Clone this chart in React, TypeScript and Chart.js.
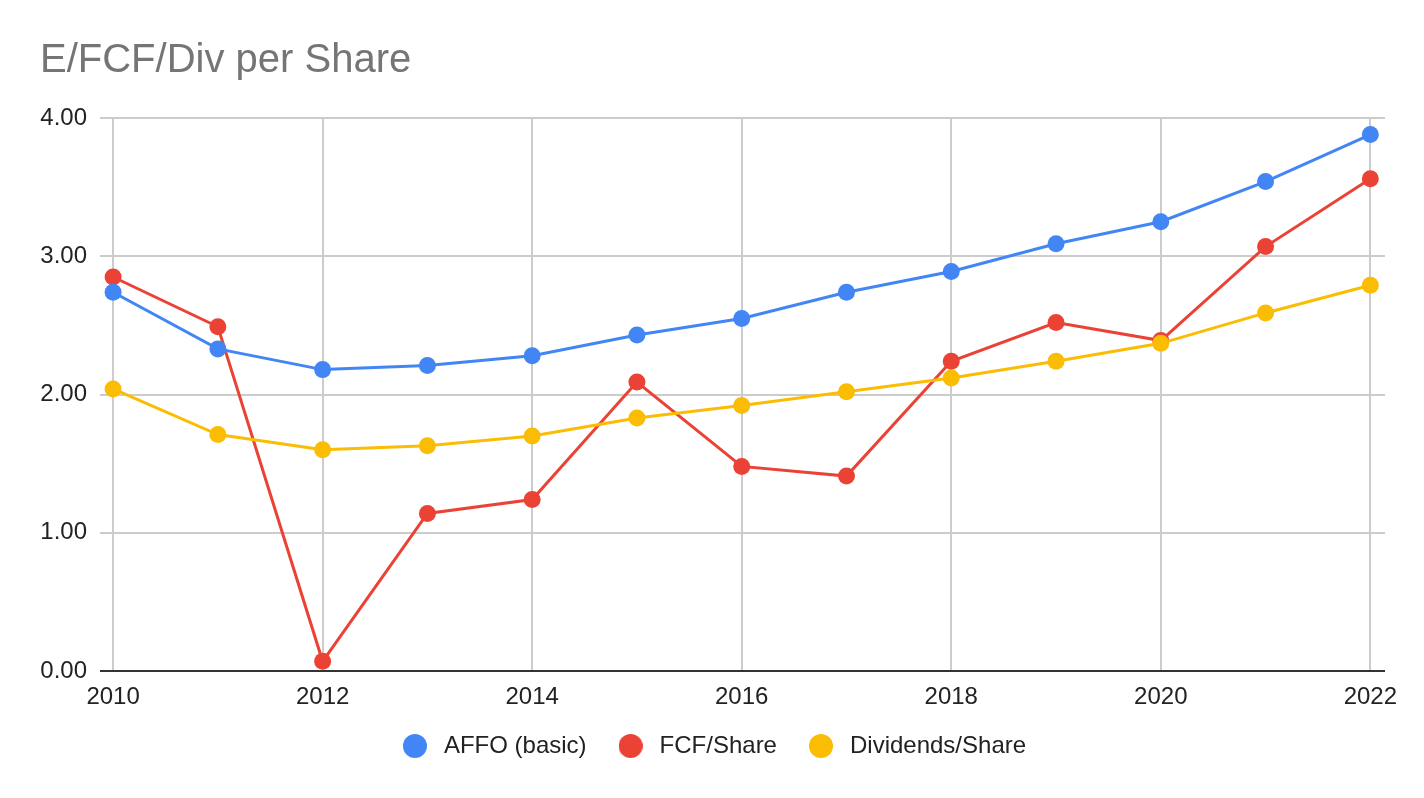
import { useEffect, useRef } from "react";
import { Chart, registerables, ChartOptions, ChartData, Plugin } from "chart.js";

Chart.register(...registerables);

// years on the x axis, and the labelled ones
const years = [2010, 2011, 2012, 2013, 2014, 2015, 2016, 2017, 2018, 2019, 2020, 2021, 2022];
const tickYears = [2010, 2012, 2014, 2016, 2018, 2020, 2022];

const affoBasic = [2.74, 2.33, 2.18, 2.21, 2.28, 2.43, 2.55, 2.74, 2.89, 3.09, 3.25, 3.54, 3.88];
const fcfShare = [2.85, 2.49, 0.07, 1.14, 1.24, 2.09, 1.48, 1.41, 2.24, 2.52, 2.39, 3.07, 3.56];
const divShare = [2.04, 1.71, 1.6, 1.63, 1.7, 1.83, 1.92, 2.02, 2.12, 2.24, 2.37, 2.59, 2.79];

const title = "E/FCF/Div per Share";
const FONT = '"Liberation Sans", Arial, sans-serif';

const toPoints = (vals: number[]) => vals.map((v, i) => ({ x: years[i], y: v }));

// round legend marker as a small canvas, so the gap to the text can be wider
const dot = (color: string, size = 24) => {
  const c = document.createElement("canvas");
  c.width = size;
  c.height = size;
  const g = c.getContext("2d")!;
  g.fillStyle = color;
  g.beginPath();
  g.arc(size / 2, size / 2, size / 2, 0, Math.PI * 2);
  g.fill();
  return c;
};

export default function App() {
  const ref = useRef<HTMLCanvasElement | null>(null);

  useEffect(() => {
    document.body.style.margin = "0";
    if (!ref.current) return;
    const ctx = ref.current.getContext("2d");
    if (!ctx) return;

    // title drawn in the top-left corner, like the sheets chart
    const titlePlugin: Plugin<"line"> = {
      id: "sheet-title",
      afterDraw: (c) => {
        const g = c.ctx;
        g.save();
        g.font = `40px ${FONT}`;
        g.fillStyle = "#757575";
        g.textBaseline = "alphabetic";
        g.textAlign = "left";
        g.fillText(title, 40, 72);
        g.restore();
      },
    };

    const line = (label: string, vals: number[], color: string, order: number) => ({
      label,
      data: toPoints(vals),
      borderColor: color,
      backgroundColor: color,
      borderWidth: 3,
      pointRadius: 8.5,
      pointBorderWidth: 0,
      pointHoverRadius: 8.5,
      tension: 0,
      order,
    });

    const data: ChartData<"line", { x: number; y: number }[]> = {
      datasets: [
        line("AFFO (basic)", affoBasic, "#4285F4", 2),
        line("FCF/Share", fcfShare, "#EA4335", 3),
        line("Dividends/Share", divShare, "#FBBC04", 1),
      ],
    };

    const options: ChartOptions<"line"> = {
      responsive: true,
      maintainAspectRatio: false,
      animation: false,
      layout: { padding: { left: 39, right: 39, top: 118, bottom: 30 } },
      plugins: {
        title: { display: false },
        tooltip: { enabled: false },
        legend: {
          position: "bottom",
          labels: {
            usePointStyle: true,
            boxHeight: 17,
            pointStyleWidth: 34,
            padding: 27,
            color: "#222",
            font: { family: FONT, size: 24 },
            sort: (a, b) => (a.datasetIndex ?? 0) - (b.datasetIndex ?? 0),
            generateLabels: (c) => {
              const items = Chart.defaults.plugins.legend.labels.generateLabels(c);
              items.forEach((it) => {
                const ds = c.data.datasets[it.datasetIndex ?? 0];
                it.pointStyle = dot(ds.borderColor as string);
              });
              return items;
            },
          },
        },
      },
      scales: {
        x: {
          type: "linear",
          min: 2009.875,
          max: 2022.14,
          afterBuildTicks: (s) => {
            s.ticks = tickYears.map((v) => ({ value: v }));
          },
          afterFit: (s) => {
            s.height = 36;
          },
          ticks: {
            autoSkip: false,
            maxRotation: 0,
            padding: 12,
            color: "#222",
            font: { family: FONT, size: 24 },
            callback: (v) => String(v),
          },
          grid: { color: "#cccccc", lineWidth: 2, drawTicks: false },
          border: { display: false },
        },
        y: {
          min: 0,
          max: 4,
          afterFit: (s) => {
            s.width = 61;
          },
          ticks: {
            stepSize: 1,
            padding: 13,
            color: "#222",
            font: { family: FONT, size: 24 },
            callback: (v) => Number(v).toFixed(2),
          },
          grid: {
            color: (c) => (c.tick && c.tick.value === 0 ? "#333333" : "#cccccc"),
            lineWidth: 2,
            drawTicks: false,
          },
          border: { display: false },
        },
      },
    };

    const chart = new Chart(ctx, { type: "line", data, options, plugins: [titlePlugin] });
    return () => chart.destroy();
  }, []);

  return (
    <div style={{ width: 1424, height: 798, position: "relative", background: "#fff" }}>
      <canvas ref={ref} />
    </div>
  );
}
